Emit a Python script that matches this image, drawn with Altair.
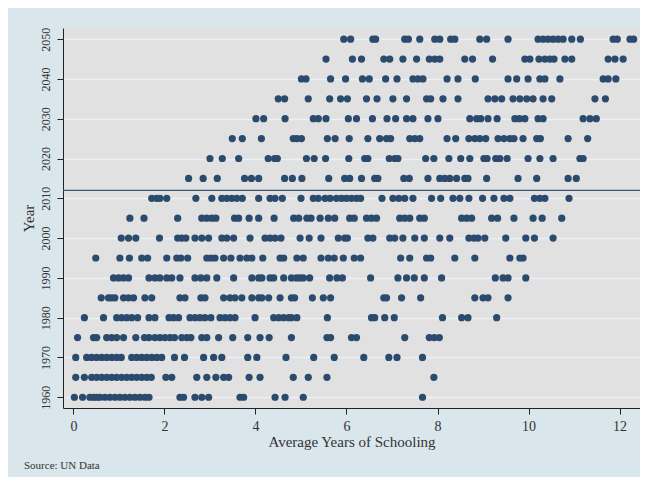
import altair as alt
import pandas as pd

years = [2050, 2045, 2040, 2035, 2030, 2025, 2020, 2015, 2010, 2005, 2000,
         1995, 1990, 1985, 1980, 1975, 1970, 1965, 1960]

schooling = [
    # 2050
    [5.94, 6.09, 6.58, 6.64, 7.28, 7.36, 7.61, 7.94, 8.05, 8.29, 8.38, 8.93, 9.08, 9.55,
     10.21, 10.32, 10.43, 10.54, 10.65, 10.76, 10.95, 11.14, 11.86, 11.95, 12.23, 12.31],
    # 2045
    [5.55, 6.13, 6.33, 6.82, 6.95, 7.24, 7.54, 7.82, 7.94, 8.05, 8.60, 8.77, 9.21, 9.92,
     10.03, 10.23, 10.36, 10.47, 10.56, 10.80, 10.95, 11.75, 11.90, 12.08],
    # 2040
    [5.01, 5.11, 5.65, 5.98, 6.35, 6.50, 6.86, 7.11, 7.46, 7.57, 7.68, 8.21, 8.45, 8.83,
     9.55, 9.74, 9.99, 10.25, 10.36, 10.69, 11.64, 11.75, 11.92],
    # 2035
    [4.50, 4.64, 5.16, 5.63, 5.87, 6.02, 6.44, 6.67, 7.02, 7.32, 7.76, 7.85, 8.12, 8.45,
     9.11, 9.26, 9.41, 9.66, 9.81, 9.96, 10.10, 10.32, 10.51, 11.46, 11.69],
    # 2030
    [4.01, 4.18, 4.65, 5.27, 5.38, 5.55, 6.04, 6.22, 6.57, 6.89, 7.08, 7.32, 7.46, 7.79,
     8.01, 8.71, 8.86, 8.95, 9.11, 9.31, 9.70, 9.80, 9.92, 10.21, 10.32, 11.20, 11.35, 11.49],
    # 2025
    [3.49, 3.71, 4.13, 4.83, 4.91, 5.01, 5.58, 5.75, 6.06, 6.47, 6.73, 6.88, 6.97, 7.39,
     7.50, 7.61, 8.21, 8.40, 8.69, 8.82, 8.93, 9.06, 9.33, 9.46, 9.59, 9.68, 9.88, 10.18,
     10.26, 10.87, 11.30],
    # 2020
    [3.00, 3.27, 3.63, 4.28, 4.42, 4.48, 5.12, 5.29, 5.54, 6.05, 6.40, 6.47, 6.94, 7.06,
     7.13, 7.74, 7.92, 8.25, 8.51, 8.71, 9.02, 9.09, 9.28, 9.37, 9.53, 9.99, 10.25, 10.54,
     11.13, 11.20],
    # 2015
    [2.53, 2.85, 3.16, 3.76, 3.91, 4.07, 4.64, 4.81, 5.02, 5.61, 5.96, 6.07, 6.33, 6.62,
     6.69, 7.26, 7.38, 7.79, 8.05, 8.16, 8.27, 8.42, 8.60, 8.67, 9.08, 9.77, 10.18, 10.87,
     11.05],
    # 2010
    [1.72, 1.83, 1.90, 2.05, 2.69, 3.04, 3.26, 3.37, 3.48, 3.59, 3.71, 4.07, 4.32, 4.43,
     4.59, 5.00, 5.27, 5.38, 5.53, 5.64, 5.78, 5.89, 6.00, 6.11, 6.22, 6.31, 6.78, 7.02,
     7.15, 7.28, 7.46, 7.87, 8.07, 8.34, 8.49, 8.69, 8.99, 9.24, 9.46, 9.59, 10.13, 10.25,
     10.36, 10.89],
    # 2005
    [1.24, 1.55, 2.29, 2.82, 2.93, 3.04, 3.13, 3.54, 3.63, 3.86, 4.07, 4.41, 4.84, 4.95,
     5.13, 5.22, 5.42, 5.60, 5.74, 6.07, 6.17, 6.44, 6.55, 6.66, 7.17, 7.28, 7.39, 7.61,
     7.71, 8.53, 8.64, 8.75, 9.19, 9.32, 9.68, 10.10, 10.30, 10.73],
    # 2000
    [1.05, 1.21, 1.37, 1.89, 2.29, 2.38, 2.47, 2.67, 2.82, 2.97, 3.26, 3.37, 3.52, 3.88,
     4.21, 4.32, 4.43, 4.56, 4.98, 5.18, 5.44, 5.82, 5.96, 6.02, 6.47, 6.58, 6.95, 7.06,
     7.24, 7.50, 7.71, 8.05, 8.27, 8.69, 8.80, 8.89, 9.04, 9.50, 9.94, 10.13, 10.54],
    # 1995
    [0.49, 1.02, 1.23, 1.50, 1.63, 2.05, 2.27, 2.36, 2.51, 2.93, 3.02, 3.11, 3.30, 3.46,
     3.66, 3.81, 3.92, 4.16, 4.54, 4.62, 4.91, 5.05, 5.44, 5.60, 5.73, 5.93, 6.17, 6.31,
     7.19, 7.39, 7.76, 7.85, 8.38, 8.82, 9.59, 9.81, 9.88],
    # 1990
    [0.88, 0.99, 1.10, 1.21, 1.66, 1.79, 1.90, 2.05, 2.16, 2.34, 2.67, 2.80, 2.93, 3.15,
     3.52, 3.92, 4.07, 4.14, 4.32, 4.40, 4.62, 4.79, 4.90, 4.97, 5.05, 5.19, 5.63, 5.79,
     5.91, 6.53, 7.13, 7.32, 7.49, 7.71, 8.09, 9.27, 9.44, 9.55, 9.94],
    # 1985
    [0.61, 0.77, 0.84, 0.91, 1.10, 1.21, 1.32, 1.57, 1.72, 2.34, 2.45, 2.80, 2.89, 3.30,
     3.44, 3.55, 3.70, 3.92, 4.07, 4.14, 4.29, 4.54, 4.79, 4.86, 5.25, 5.49, 5.65, 6.82,
     6.88, 7.21, 7.63, 8.82, 9.00, 9.11, 9.55],
    # 1980
    [0.24, 0.66, 0.95, 1.06, 1.17, 1.28, 1.41, 1.66, 1.79, 2.10, 2.20, 2.31, 2.56, 2.67,
     2.78, 2.89, 3.02, 3.22, 3.33, 3.44, 3.55, 3.99, 4.40, 4.51, 4.62, 4.73, 4.79, 4.91,
     5.58, 6.55, 6.62, 6.84, 7.05, 8.11, 8.53, 8.67, 9.30],
    # 1975
    [0.09, 0.44, 0.51, 0.73, 0.84, 0.95, 1.10, 1.37, 1.56, 1.66, 1.79, 1.90, 2.01, 2.12,
     2.22, 2.38, 2.49, 2.58, 2.82, 2.93, 3.19, 3.50, 3.83, 4.10, 4.30, 4.79, 5.57, 5.65,
     6.11, 6.22, 7.28, 7.82, 7.93, 8.04],
    # 1970
    [0.05, 0.29, 0.40, 0.51, 0.62, 0.73, 0.84, 0.95, 1.05, 1.28, 1.39, 1.50, 1.61, 1.72,
     1.83, 1.94, 2.22, 2.44, 2.86, 3.08, 3.26, 3.83, 4.03, 4.67, 5.28, 5.73, 6.38, 6.93,
     7.11, 7.67],
    # 1965
    [0.05, 0.24, 0.40, 0.51, 0.62, 0.73, 0.84, 0.95, 1.06, 1.17, 1.28, 1.39, 1.50, 1.61,
     1.71, 2.03, 2.16, 2.71, 2.93, 3.13, 3.30, 3.41, 3.86, 4.10, 4.83, 5.16, 5.57, 7.92],
    # 1960
    [0.02, 0.20, 0.36, 0.44, 0.51, 0.58, 0.69, 0.80, 0.91, 1.02, 1.13, 1.24, 1.35, 1.46,
     1.57, 1.66, 2.34, 2.42, 2.67, 2.82, 2.97, 3.66, 3.74, 4.43, 4.65, 5.05, 7.67],
]

ref_year = [2012]
x_ticks = [0, 2, 4, 6, 8, 10, 12]
y_ticks = [1960, 1970, 1980, 1990, 2000, 2010, 2020, 2030, 2040, 2050]

rows = []
for yr, vals in zip(years, schooling):
    for v in vals:
        rows.append({"schooling": v, "year": yr})
df = pd.DataFrame(rows)
ref_df = pd.DataFrame({"year": ref_year})

FONT = "Liberation Serif"
NAVY = "#2a4a6e"

x_scale = alt.Scale(domain=[-0.23, 12.45], nice=False, zero=False)
y_scale = alt.Scale(domain=[1957.3, 2052.8], nice=False, zero=False)

points = alt.Chart(df).mark_circle(size=52, opacity=1, color=NAVY).encode(
    x=alt.X("schooling:Q", scale=x_scale,
            axis=alt.Axis(title="Average Years of Schooling", values=x_ticks,
                          grid=False, domainColor="#222222", tickColor="#222222",
                          tickSize=6, labelPadding=5, labelFontSize=14,
                          titleFontSize=15, titlePadding=1, labelColor="#333333",
                          titleColor="#333333", titleFontWeight="normal")),
    y=alt.Y("year:Q", scale=y_scale,
            axis=alt.Axis(title="Year", values=y_ticks, format="d",
                          grid=True, gridColor="#eaf0f3", gridWidth=1.6,
                          domainColor="#222222", tickColor="#222222", tickSize=6,
                          labelAngle=-90, labelAlign="center", labelBaseline="bottom",
                          labelPadding=5, labelFontSize=12, titleFontSize=15,
                          titlePadding=3, labelColor="#333333", titleColor="#333333",
                          titleFontWeight="normal")),
)

rule = alt.Chart(ref_df).mark_rule(color="#3e5a72", strokeWidth=1.3).encode(
    y=alt.Y("year:Q", scale=y_scale)
)

chart = alt.layer(rule, points).properties(
    width=577,
    height=380,
    autosize=alt.AutoSizeParams(type="none"),
    padding={"left": 55, "top": 20, "right": 0, "bottom": 69},
    background="#d9e6ec",
    title=alt.TitleParams(text="Source: UN Data", orient="bottom", anchor="start",
                          fontSize=11, font=FONT, fontWeight="normal",
                          color="#333333", offset=11, dx=3),
).configure_view(
    fill="#e1e1e1", stroke=None
).configure_axis(
    labelFont=FONT, titleFont=FONT
)

chart.save("out.html", embed_options={"renderer": "svg", "actions": False})
